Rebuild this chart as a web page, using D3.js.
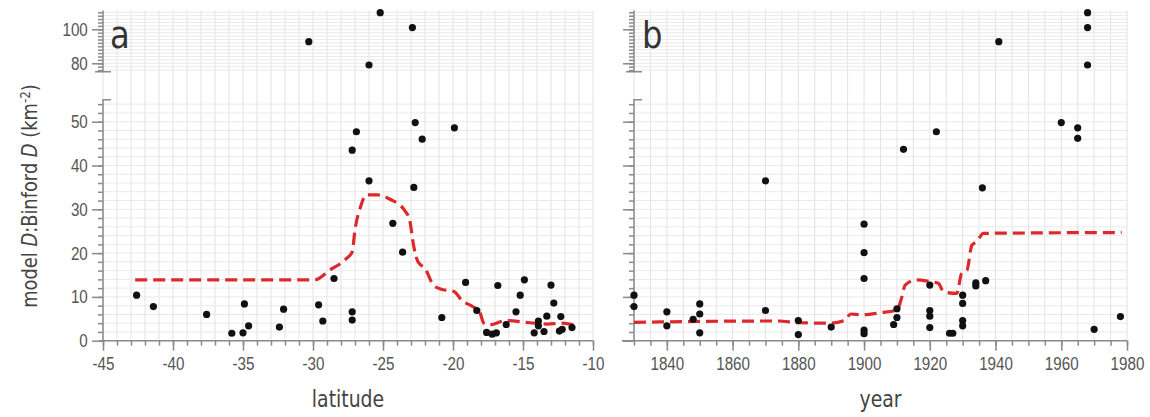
<!DOCTYPE html>
<html>
<head>
<meta charset="utf-8">
<script src="https://d3js.org/d3.v7.min.js"></script>
<style>
    body { margin: 0; background: #fff; }
    svg { font-family: "DejaVu Sans", sans-serif; }
    .grid line { stroke: #e2e2e2; stroke-width: 1; }
    .grid line.h { stroke: #eaeaea; }
    .axis path, .axis line { stroke: #8a8a8a; stroke-width: 1.5; fill: none; }
    .axis text { fill: #555; font-size: 19px; }
    .trend { fill: none; stroke: #dc2a2c; stroke-width: 3.2; stroke-dasharray: 12, 6; }
    .dot { fill: #111; }
</style>
</head>
<body>
<svg id="chart" width="1150" height="417"></svg>
<script>
    // panel a: latitude vs density
    const latA = [-42.6, -41.4, -37.6, -35.8, -35.0, -34.9, -34.6, -32.4, -32.1, -30.3, -29.6, -29.3, -28.5,
        -27.2, -26.9, -27.2, -27.2, -26.0, -26.0, -25.2, -24.3, -23.6, -22.9, -22.8, -22.7, -22.2, -19.9,
        -20.8, -19.1, -18.3, -17.6, -17.2, -16.9, -16.8, -16.2, -15.5, -15.2, -14.9, -14.2, -13.9, -13.9,
        -13.5, -13.3, -13.0, -12.8, -12.4, -12.3, -12.2, -11.5];
    const denA = [10.4, 7.8, 6.0, 1.7, 1.8, 8.4, 3.4, 3.1, 7.2, 92.7, 8.2, 4.5, 14.2,
        43.5, 47.7, 6.6, 4.7, 36.5, 79, 109.8, 26.8, 20.2, 101, 35.0, 49.8, 46.0, 48.6,
        5.3, 13.3, 6.9, 1.9, 1.5, 1.8, 12.6, 3.7, 6.6, 10.4, 13.9, 1.8, 4.5, 3.4,
        2.1, 5.6, 12.7, 8.6, 2.2, 5.5, 2.6, 3.0];
    const trendLatX = [-42.7, -35, -29.9, -28.8, -27.6, -27.2, -27.0, -26.6, -26.2, -25.4, -24.5, -23.4, -23.1,
        -22.8, -22.5, -22.0, -21.4, -20.9, -19.9, -19.4, -18.6, -18.1, -17.8, -17.4, -16.2, -14.5, -13.3, -12.2, -11.4];
    const trendLatY = [13.9, 13.9, 13.9, 16.1, 18.8, 20.3, 25.3, 30.6, 33.3, 33.3, 32.3, 29.5, 27.6,
        21.5, 18.0, 16.5, 12.7, 11.8, 11.2, 9.3, 7.8, 6.6, 4.0, 3.6, 4.6, 4.1, 3.8, 4.0, 3.6];

    // panel b: year vs density
    const yearB = [1830, 1830, 1840, 1840, 1848, 1850, 1850, 1850, 1870, 1870, 1880, 1880, 1890,
        1900, 1900, 1900, 1900, 1900, 1909, 1910, 1910, 1912, 1920, 1920, 1920, 1920, 1922,
        1926, 1927, 1930, 1930, 1930, 1930, 1934, 1934, 1936, 1937, 1941, 1960, 1965, 1965,
        1968, 1968, 1968, 1970, 1978];
    const denB = [10.4, 7.8, 6.6, 3.4, 4.9, 8.4, 6.1, 1.8, 36.5, 6.9, 4.6, 1.4, 3.1,
        26.6, 20.1, 14.2, 2.4, 1.6, 3.7, 7.3, 5.3, 43.7, 12.7, 6.9, 5.6, 3.0, 47.7,
        1.7, 1.7, 10.4, 8.5, 4.6, 3.4, 13.2, 12.5, 34.9, 13.7, 92.7, 49.8, 48.6, 46.2,
        109.8, 101, 79, 2.6, 5.5];
    const trendYearX = [1830, 1850, 1874, 1880, 1890, 1894, 1896, 1899, 1905, 1910, 1911.5, 1912.5, 1916,
        1920, 1922.6, 1924.2, 1928.2, 1929.7, 1931.3, 1932.8, 1934.3, 1936.3, 1950, 1978.4];
    const trendYearY = [4.2, 4.4, 4.5, 4.1, 4.0, 4.6, 6.1, 5.9, 6.4, 7.0, 10.0, 12.7, 13.9,
        13.5, 13.1, 11.2, 10.8, 15.4, 16.1, 21.8, 22.6, 24.5, 24.6, 24.7];

    const latTicks = [-45, -40, -35, -30, -25, -20, -15, -10];
    const yearTicks = [1840, 1860, 1880, 1900, 1920, 1940, 1960, 1980];
    const lowTicks = [0, 10, 20, 30, 40, 50];
    const highTicks = [80, 100];

    const svg = d3.select("#chart");
    const yLow = d3.scaleLinear().domain([0, 55]).range([340.7, 99.8]);
    const yHigh = d3.scaleLinear().domain([75, 111]).range([71.8, 10.6]);
    const yAny = v => v > 60 ? yHigh(v) : yLow(v);
    const narrow = "scale(0.8,1)";

    function panel(x, pts, trend, opts) {
        const g = svg.append("g");
        const [x0, x1] = x.range();
        // grid
        const grid = g.append("g").attr("class", "grid");
        grid.selectAll("line.v").data(d3.range(x.domain()[0], x.domain()[1] + 0.01, opts.gridStep))
            .join("line").attr("class", "v")
            .attr("x1", d => x(d)).attr("x2", d => x(d))
            .attr("y1", yHigh(111)).attr("y2", yLow(0));
        grid.selectAll("line.hl").data(d3.range(2, 55, 2))
            .join("line").attr("class", "h hl")
            .attr("x1", x0).attr("x2", x1)
            .attr("y1", d => yLow(d)).attr("y2", d => yLow(d));
        grid.selectAll("line.hh").data(d3.range(76, 111, 2))
            .join("line").attr("class", "h hh")
            .attr("x1", x0).attr("x2", x1)
            .attr("y1", d => yHigh(d)).attr("y2", d => yHigh(d));

        // x axis
        const xa = g.append("g").attr("class", "axis").attr("transform", `translate(0,${yLow(0)})`);
        xa.call(d3.axisBottom(x).tickValues(opts.minor).tickSize(5).tickFormat(""))
            .select(".domain").remove();
        const xm = g.append("g").attr("class", "axis").attr("transform", `translate(0,${yLow(0)})`)
            .call(d3.axisBottom(x).tickValues(opts.major).tickSizeOuter(0).tickSize(10)
                .tickFormat(opts.fmt).tickPadding(6));
        xm.select(".domain").attr("d", `M${x0 - opts.axisExt},0H${x1}`);
        xm.selectAll(".tick text").attr("transform", narrow);

        // y axes
        const yl = g.append("g").attr("class", "axis").attr("transform", `translate(${x0},0)`);
        yl.call(d3.axisLeft(yLow).tickValues(d3.range(2, 55, 2)).tickSize(5).tickFormat(""))
            .select(".domain").remove();
        const ylm = g.append("g").attr("class", "axis").attr("transform", `translate(${x0},0)`)
            .call(d3.axisLeft(yLow).tickValues(lowTicks).tickSize(11).tickSizeOuter(0)
                .tickFormat(opts.yLabels ? d3.format("d") : "").tickPadding(8));
        ylm.select(".domain").attr("d", `M0,${yLow(0)}V${yLow(55)}H8`);
        const yh = g.append("g").attr("class", "axis").attr("transform", `translate(${x0},0)`);
        yh.call(d3.axisLeft(yHigh).tickValues(d3.range(76, 111, 2)).tickSize(5).tickFormat(""))
            .select(".domain").remove();
        const yhm = g.append("g").attr("class", "axis").attr("transform", `translate(${x0},0)`)
            .call(d3.axisLeft(yHigh).tickValues(highTicks).tickSize(11).tickSizeOuter(0)
                .tickFormat(opts.yLabels ? d3.format("d") : "").tickPadding(8));
        yhm.select(".domain").attr("d", `M0,${yHigh(111)}V${yHigh(75)}M-8,${yHigh(75)}H8`);
        ylm.selectAll(".tick text").attr("transform", narrow);
        yhm.selectAll(".tick text").attr("transform", narrow);

        // trend
        const line = d3.line().x(d => x(d[0])).y(d => yLow(d[1])).curve(d3.curveMonotoneX);
        g.append("path").attr("class", "trend").attr("d", line(trend));

        // dots
        g.selectAll("circle.dot").data(pts).join("circle").attr("class", "dot")
            .attr("cx", d => x(d[0])).attr("cy", d => yAny(d[1])).attr("r", 3.6);

        g.append("text").attr("transform", `translate(${x0 + opts.labelDx},48) scale(0.85,1)`)
            .style("font-size", "38px").style("fill", "#333").text(opts.letter);
        g.append("text").attr("transform", `translate(${(x0 + x1) / 2},407) scale(0.82,1)`)
            .attr("text-anchor", "middle")
            .style("font-size", "23px").style("fill", "#444").text(opts.xTitle);
    }

    const xLat = d3.scaleLinear().domain([-45, -10]).range([103, 593]);
    const xYear = d3.scaleLinear().domain([1830, 1980]).range([634, 1127]);

    panel(xLat, latA.map((d, i) => [d, denA[i]]), trendLatX.map((d, i) => [d, trendLatY[i]]), {
        gridStep: 1, minor: d3.range(-45, -9.9, 1), major: latTicks, fmt: d => String(d),
        axisExt: 4, yLabels: true, letter: "a", labelDx: 7, xTitle: "latitude"
    });
    panel(xYear, yearB.map((d, i) => [d, denB[i]]), trendYearX.map((d, i) => [d, trendYearY[i]]), {
        gridStep: 5, minor: d3.range(1830, 1981, 5), major: yearTicks, fmt: d => String(d),
        axisExt: 12, yLabels: false, letter: "b", labelDx: 8, xTitle: "year"
    });

    // y title
    const yt = svg.append("text").attr("transform", "translate(37,196) rotate(-90) scale(0.85,1)")
        .attr("text-anchor", "middle").style("font-size", "21px").style("fill", "#444");
    yt.append("tspan").text("model ");
    yt.append("tspan").style("font-style", "italic").text("D");
    yt.append("tspan").text(":Binford ");
    yt.append("tspan").style("font-style", "italic").text("D");
    yt.append("tspan").text(" (km");
    yt.append("tspan").attr("dy", -7).style("font-size", "14px").text("-2");
    yt.append("tspan").attr("dy", 7).text(")");
</script>
</body>
</html>
